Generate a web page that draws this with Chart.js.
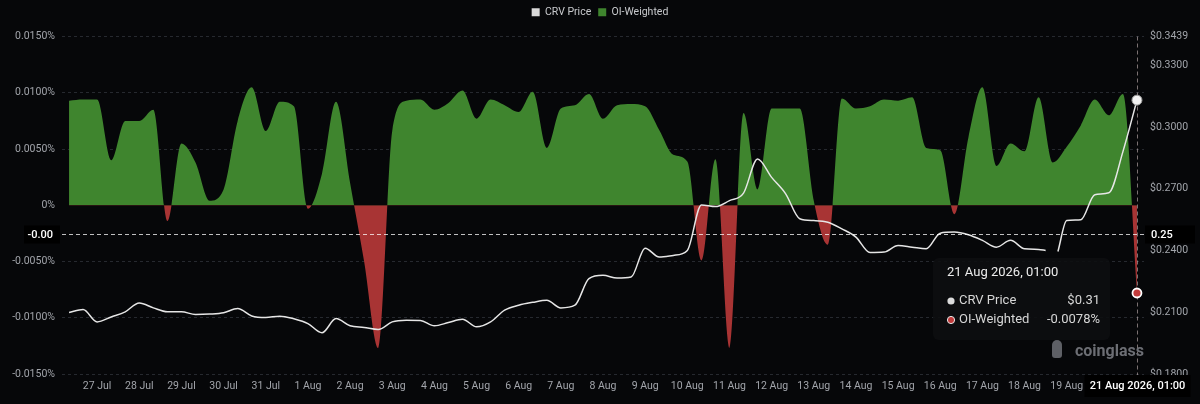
<!DOCTYPE html>
<html>
<head>
<meta charset="utf-8">
<title>CRV OI-Weighted Funding Rate</title>
<script src="https://cdn.jsdelivr.net/npm/chart.js@4.4.1/dist/chart.umd.min.js"></script>
<style>
  html, body { margin: 0; padding: 0; background: #060709; }
  #wrap { width: 1200px; height: 404px; }
</style>
</head>
<body>
<div id="wrap"><canvas id="fundingChart" width="1200" height="404"></canvas></div>
<script>
// OI-weighted funding rate (%), one reading every 8 hours, 26 Jul 17:00 -> 21 Aug 01:00
const fundingRates = [
  0.0093, 0.0094, 0.0094, 0.0040, 0.0075, 0.0075, 0.0085, -0.0014, 0.0055, 0.0038,
  0.0004, 0.0014, 0.0075, 0.0105, 0.0066, 0.0092, 0.0088, -0.0003, 0.0028, 0.0092,
  0.0020, -0.0050, -0.0127, 0.0066, 0.0093, 0.0094, 0.0085, 0.0091, 0.0102, 0.0077,
  0.0094, 0.0089, 0.0083, 0.0101, 0.0051, 0.0086, 0.0089, 0.0099, 0.0077, 0.0089,
  0.0090, 0.0088, 0.0067, 0.0045, 0.0039, -0.0049, 0.0041, -0.0127, 0.0082, 0.0014,
  0.0086, 0.0086, 0.0086, 0.0004, -0.0035, 0.0095, 0.0086, 0.0088, 0.0094, 0.0093,
  0.0096, 0.0051, 0.0049, -0.0008, 0.0060, 0.0105, 0.0035, 0.0055, 0.0048, 0.0096,
  0.0038, 0.0052, 0.0071, 0.0094, 0.0080, 0.0099, -0.0078
];
const fundingHours = fundingRates.map((_, i) => i * 8);

// CRV price (USD); there is a short hole in the feed on 19 Aug
const priceValues = [
  0.2099, 0.2113, 0.2053, 0.2077, 0.2102, 0.2145, 0.2121, 0.2102, 0.2102, 0.2089,
  0.2091, 0.2097, 0.2118, 0.2082, 0.2074, 0.2081, 0.2068, 0.2045, 0.2000, 0.2069,
  0.2034, 0.2026, 0.2016, 0.2053, 0.2061, 0.2060, 0.2034, 0.2050, 0.2066, 0.2029,
  0.2053, 0.2110, 0.2134, 0.2148, 0.2158, 0.2121, 0.2134, 0.2263, 0.2279, 0.2266,
  0.2271, 0.2411, 0.2368, 0.2376, 0.2400, 0.2621, 0.2613, 0.2642, 0.2678, 0.2844,
  0.2755, 0.2675, 0.2554, 0.2545, 0.2537, 0.2505, 0.2465, 0.2390, 0.2392, 0.2424,
  0.2416, 0.2408, 0.2484, 0.2489, 0.2476, 0.2449, 0.2416, 0.2449, 0.2408, 0.2405,
  0.2400, null, 0.2395, 0.2545, 0.2549, 0.2671, 0.2680, 0.2880, 0.3130
];
const priceHours = fundingHours.slice(0, 70).concat([556, 560, 563, 568, 576, 584, 592, 600, 608]);

const dayLabels = [
  '27 Jul', '28 Jul', '29 Jul', '30 Jul', '31 Jul', '1 Aug', '2 Aug', '3 Aug',
  '4 Aug', '5 Aug', '6 Aug', '7 Aug', '8 Aug', '9 Aug', '10 Aug', '11 Aug',
  '12 Aug', '13 Aug', '14 Aug', '15 Aug', '16 Aug', '17 Aug', '18 Aug', '19 Aug'
];
const dayTickHours = dayLabels.map((_, k) => 16 + k * 24);

const fundingTicks = [-0.015, -0.01, -0.005, 0, 0.005, 0.01, 0.015];
const priceTicks = [0.18, 0.21, 0.24, 0.27, 0.30, 0.33, 0.3439];

const cursorHour = 608;
const cursorPrice = 0.2478;
const cursorLabel = '21 Aug 2026, 01:00';

const BG = '#060709';
const GREEN = '#3f852e';
const RED = '#a83434';
const TEXT = '#a2a5ab';
const FONT = 'Roboto, "Noto Sans", sans-serif';

const toPairs = (xs, ys) => xs.map((x, i) => ({ x: x, y: ys[i] }));

// paint the page colour behind everything
const backdrop = {
  id: 'backdrop',
  beforeDraw(chart) {
    const ctx = chart.ctx;
    ctx.save();
    ctx.fillStyle = BG;
    ctx.fillRect(0, 0, chart.width, chart.height);
    ctx.restore();
  }
};

// leave room between legend and plot
const legendGap = {
  id: 'legendGap',
  beforeInit(chart) {
    const origFit = chart.legend.fit;
    chart.legend.fit = function fit() {
      origFit.bind(chart.legend)();
      this.height += 9;
    };
  }
};

function labelBox(ctx, text, cx, cy, w, h, align) {
  ctx.fillStyle = '#000000';
  ctx.fillRect(cx - w / 2, cy - h / 2, w, h);
  ctx.fillStyle = '#ffffff';
  ctx.textAlign = align || 'center';
  ctx.textBaseline = 'middle';
  ctx.fillText(text, align === 'right' ? cx + w / 2 - 7 : (align === 'left' ? cx - w / 2 + 6 : cx), cy + 0.5);
}

// hover state: crosshair, axis badges, highlighted points, tooltip, watermark
const hoverState = {
  id: 'hoverState',
  afterDatasetsDraw(chart) {
    const { ctx, chartArea, scales } = chart;
    const px = Math.round(scales.x.getPixelForValue(cursorHour)) + 0.5;
    const py = Math.round(scales.y1.getPixelForValue(cursorPrice)) + 0.5;

    ctx.save();
    ctx.lineWidth = 1;
    ctx.setLineDash([4, 3]);
    ctx.strokeStyle = 'rgba(255,255,255,0.75)';
    ctx.beginPath();
    ctx.moveTo(chartArea.left, py);
    ctx.lineTo(chartArea.right, py);
    ctx.stroke();
    ctx.strokeStyle = 'rgba(220,200,200,0.55)';
    ctx.beginPath();
    ctx.moveTo(px, chartArea.top);
    ctx.lineTo(px, chartArea.bottom + 2);
    ctx.stroke();
    ctx.setLineDash([]);

    // axis badges
    ctx.font = '500 11px ' + FONT;
    const leftVal = scales.y.getValueForPixel(py);
    labelBox(ctx, leftVal.toFixed(2), 42, py, 36, 18, 'right');
    labelBox(ctx, cursorPrice.toFixed(2), 1170, py, 50, 18, 'left');
    labelBox(ctx, cursorLabel, px, 386, 106, 22);

    // highlighted points
    const priceMeta = chart.getDatasetMeta(0);
    const oiMeta = chart.getDatasetMeta(1);
    const pPt = priceMeta.data[priceMeta.data.length - 1];
    const oPt = oiMeta.data[oiMeta.data.length - 1];
    ctx.beginPath();
    ctx.arc(pPt.x, pPt.y, 5, 0, Math.PI * 2);
    ctx.fillStyle = '#f2f2f2';
    ctx.fill();
    ctx.lineWidth = 1;
    ctx.strokeStyle = '#9a9a9a';
    ctx.stroke();
    ctx.beginPath();
    ctx.arc(oPt.x, oPt.y, 4.5, 0, Math.PI * 2);
    ctx.fillStyle = '#c23b3b';
    ctx.fill();
    ctx.lineWidth = 1.8;
    ctx.strokeStyle = '#ffffff';
    ctx.stroke();

    // tooltip
    const tx = 933, ty = 258, tw = 177, th = 82;
    ctx.fillStyle = 'rgba(13,14,17,0.9)';
    ctx.beginPath();
    ctx.roundRect(tx, ty, tw, th, 6);
    ctx.fill();

    ctx.textBaseline = 'middle';
    ctx.textAlign = 'left';
    ctx.fillStyle = '#ececec';
    ctx.font = '13px ' + FONT;
    ctx.fillText(cursorLabel, 947, 273);

    const lastPrice = priceValues[priceValues.length - 1];
    const lastRate = fundingRates[fundingRates.length - 1];
    const rows = [
      { name: 'CRV Price', value: '$' + lastPrice.toFixed(2), dot: '#dcdcdc', y: 301 },
      { name: 'OI-Weighted', value: lastRate.toFixed(4) + '%', dot: '#c23b3b', y: 320 }
    ];
    rows.forEach(r => {
      ctx.beginPath();
      ctx.arc(951, r.y, 3.6, 0, Math.PI * 2);
      ctx.fillStyle = r.dot;
      ctx.fill();
      if (r.dot !== '#dcdcdc') {
        ctx.lineWidth = 1;
        ctx.strokeStyle = '#e8e8e8';
        ctx.stroke();
      }
      ctx.fillStyle = '#d6d6d6';
      ctx.textAlign = 'left';
      ctx.fillText(r.name, 959, r.y);
      ctx.textAlign = 'right';
      ctx.fillText(r.value, 1100, r.y);
    });

    // watermark
    ctx.fillStyle = '#5e6066';
    ctx.beginPath();
    ctx.roundRect(1052, 344, 10, 14, 3);
    ctx.fill();
    ctx.beginPath();
    ctx.arc(1057, 345, 5, 0, Math.PI * 2);
    ctx.fill();
    ctx.fillStyle = '#6c6e74';
    ctx.font = 'bold 16px ' + FONT;
    ctx.textAlign = 'left';
    ctx.fillText('coinglass', 1075, 352);
    ctx.restore();
  }
};

const ctx = document.getElementById('fundingChart').getContext('2d');
new Chart(ctx, {
  type: 'line',
  data: {
    datasets: [
      {
        label: 'CRV Price',
        data: toPairs(priceHours, priceValues),
        yAxisID: 'y1',
        borderColor: '#e6e6e6',
        backgroundColor: '#d9d9d9',
        borderWidth: 1.5,
        pointRadius: 0,
        spanGaps: false,
        cubicInterpolationMode: 'monotone',
        fill: false
      },
      {
        label: 'OI-Weighted',
        data: toPairs(fundingHours, fundingRates.map(v => v / 100)),
        yAxisID: 'y',
        borderWidth: 0,
        borderColor: 'rgba(0,0,0,0)',
        backgroundColor: GREEN,
        pointRadius: 0,
        cubicInterpolationMode: 'monotone',
        fill: { target: 'origin', above: GREEN, below: RED }
      }
    ]
  },
  options: {
    responsive: false,
    animation: false,
    devicePixelRatio: 1,
    layout: { padding: 0 },
    plugins: {
      legend: {
        position: 'top',
        labels: {
          color: '#c8cacd',
          boxWidth: 8,
          boxHeight: 8,
          padding: 7,
          font: { family: FONT, size: 10.5 },
          generateLabels(chart) {
            return chart.data.datasets.map((ds, i) => ({
              text: ds.label,
              fillStyle: ds.backgroundColor,
              strokeStyle: ds.backgroundColor,
              lineWidth: 0,
              fontColor: '#c8cacd',
              datasetIndex: i
            }));
          }
        }
      },
      tooltip: { enabled: false }
    },
    scales: {
      x: {
        type: 'linear',
        min: -4,
        max: 612,
        afterFit(scale) { scale.height = 30; },
        afterBuildTicks(scale) { scale.ticks = dayTickHours.map(v => ({ value: v })); },
        grid: { display: false, drawTicks: false },
        border: { display: false },
        ticks: {
          autoSkip: false,
          maxRotation: 0,
          padding: 6,
          color: TEXT,
          font: { family: FONT, size: 10.5 },
          callback: (v, i) => dayLabels[i]
        }
      },
      y: {
        position: 'left',
        min: -0.015 / 100,
        max: 0.015 / 100,
        afterFit(scale) { scale.width = 62; },
        afterBuildTicks(scale) { scale.ticks = fundingTicks.map(v => ({ value: v / 100 })); },
        grid: {
          drawTicks: false,
          color: c => (c.tick && Math.abs(c.tick.value) < 1e-12 ? 'rgba(0,0,0,0)' : '#26292f'),
          lineWidth: 1
        },
        border: { display: false, dash: [3, 3] },
        ticks: {
          padding: 7,
          color: TEXT,
          font: { family: FONT, size: 10.5 },
          callback: v => (Math.abs(v) < 1e-12 ? '0%' : (v * 100).toFixed(4) + '%')
        }
      },
      y1: {
        position: 'right',
        min: 0.18,
        max: 0.3439,
        afterFit(scale) { scale.width = 56; },
        afterBuildTicks(scale) { scale.ticks = priceTicks.map(v => ({ value: v })); },
        grid: { display: false, drawTicks: false },
        border: { display: false },
        ticks: {
          padding: 6,
          color: TEXT,
          font: { family: FONT, size: 10.5 },
          callback: v => '$' + v.toFixed(4)
        }
      }
    }
  },
  plugins: [backdrop, legendGap, hoverState]
});
</script>
</body>
</html>
